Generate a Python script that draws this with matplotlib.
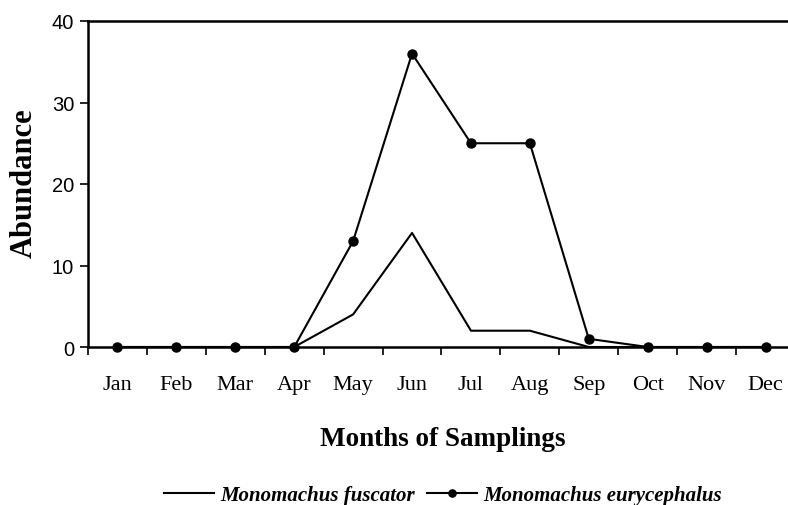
import matplotlib
matplotlib.use("Agg")
import matplotlib.pyplot as plt
import numpy as np

months = ["Jan", "Feb", "Mar", "Apr", "May", "Jun", "Jul", "Aug", "Sep", "Oct", "Nov", "Dec"]
fuscator = [0, 0, 0, 0, 4, 14, 2, 2, 0, 0, 0, 0]
eurycephalus = [0, 0, 0, 0, 13, 36, 25, 25, 1, 0, 0, 0]
yticks = [0, 10, 20, 30, 40]

W, H = 788, 506
fig = plt.figure(figsize=(W / 100, H / 100), dpi=100)
ax = fig.add_axes([88 / W, 1 - 348 / H, 707 / W, (348 - 22) / H])

x = np.arange(len(months))
l1, = ax.plot(x, fuscator, color="black", lw=1.5, clip_on=False, label="Monomachus fuscator")
l2, = ax.plot(x, eurycephalus, color="black", lw=1.5, marker="o", ms=6.5, clip_on=False,
              label="Monomachus eurycephalus")

ax.set_xlim(-0.5, len(months) - 0.5)
ax.set_ylim(0, 40)
ax.set_yticks(yticks)
ax.set_yticklabels([str(v) for v in yticks], family="Liberation Sans", fontsize=14.5)
ax.set_xticks(x)
ax.set_xticklabels(months, family="Liberation Serif", fontsize=16)
ax.set_xticks(np.arange(len(months) + 1) - 0.5, minor=True)
ax.tick_params(axis="x", which="major", length=0, pad=20)
ax.tick_params(axis="x", which="minor", length=6, width=1.2, direction="out")
ax.tick_params(axis="y", length=6, width=1.2, direction="out", pad=4)

for s in ["left", "bottom", "top"]:
    ax.spines[s].set_linewidth(1.8)
ax.spines["right"].set_visible(False)

fig.text(24 / W, 1 - 183 / H, "Abundance", rotation=90, family="Liberation Serif",
         fontweight="bold", fontsize=22, ha="center", va="center")
fig.text(443 / W, 1 - 440 / H, "Months of Samplings", family="Liberation Serif",
         fontweight="bold", fontsize=19.5, ha="center", va="center")

leg = fig.legend(handles=[l1, l2], loc="center", bbox_to_anchor=(443 / W, 1 - 496 / H),
                 ncol=2, frameon=False, handlelength=2.4, handletextpad=0.3,
                 columnspacing=0.6, markerscale=0.8,
                 prop={"family": "Liberation Serif", "style": "italic", "weight": "bold", "size": 15})

fig.savefig("out.png", dpi=100)
